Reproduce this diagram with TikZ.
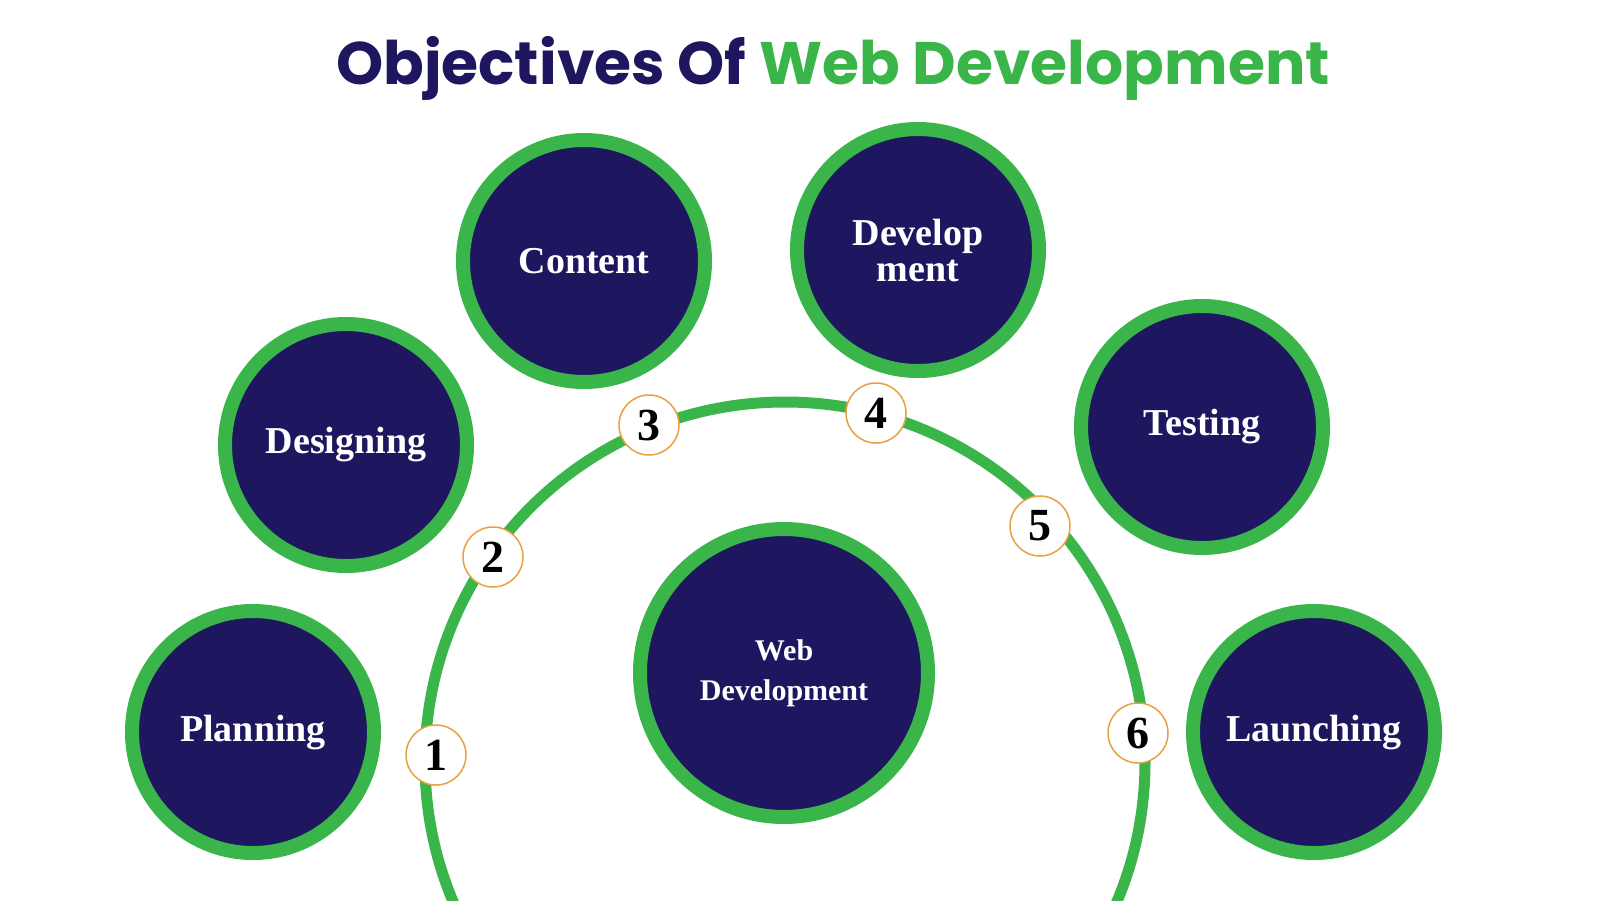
\documentclass[tikz,border=0pt]{standalone}
\usepackage{fontspec}
\setmainfont{Liberation Serif}
\newfontfamily\titlefont{Poppins}
\definecolor{navy}{HTML}{1E1760}
\definecolor{grn}{HTML}{3AB54A}
\definecolor{org}{HTML}{E8A040}
\begin{document}
\begin{tikzpicture}[x=1pt,y=-1pt,
  obj/.style={circle,fill=navy,draw=grn,line width=14pt,minimum size=242pt,inner sep=0pt,text=white,font=\fontsize{38}{36}\selectfont\bfseries,align=center},
  num/.style={circle,fill=white,draw=org,line width=1.5pt,minimum size=60pt,inner sep=0pt,font=\fontsize{46}{46}\selectfont\bfseries}]
\useasboundingbox (0,0) rectangle (1600,900);
\fill[white] (0,0) rectangle (1600,900);
\begin{scope}
\clip (0,0) rectangle (1600,900);
\draw[grn,line width=11pt] (785,762) circle (360);
\end{scope}
\node[font=\titlefont\bfseries\fontsize{60}{60}\selectfont] (t) at (833,68) {\textcolor{navy}{Objectives Of} \textcolor{grn}{Web Development}};
\node[obj] (c1) at (253,732) {Planning};
\node[obj] (c2) at (346,445) {Designing};
\node[obj] (c3) at (584,261) {Content};
\node[obj] (c4) at (918,250) {Develop\\ment};
\node[obj] (c5) at (1202,427) {Testing};
\node[obj] (c6) at (1314,732) {Launching};
\node[obj,minimum size=288pt,font=\fontsize{30}{40}\selectfont\bfseries] (c0) at (784,673) {Web\\Development};
\node[num] (n1) at (436,755) {1};
\node[num] (n2) at (493,557) {2};
\node[num] (n3) at (649,425) {3};
\node[num] (n4) at (876,413) {4};
\node[num] (n5) at (1040,526) {5};
\node[num] (n6) at (1138,733) {6};
\end{tikzpicture}
\end{document}
